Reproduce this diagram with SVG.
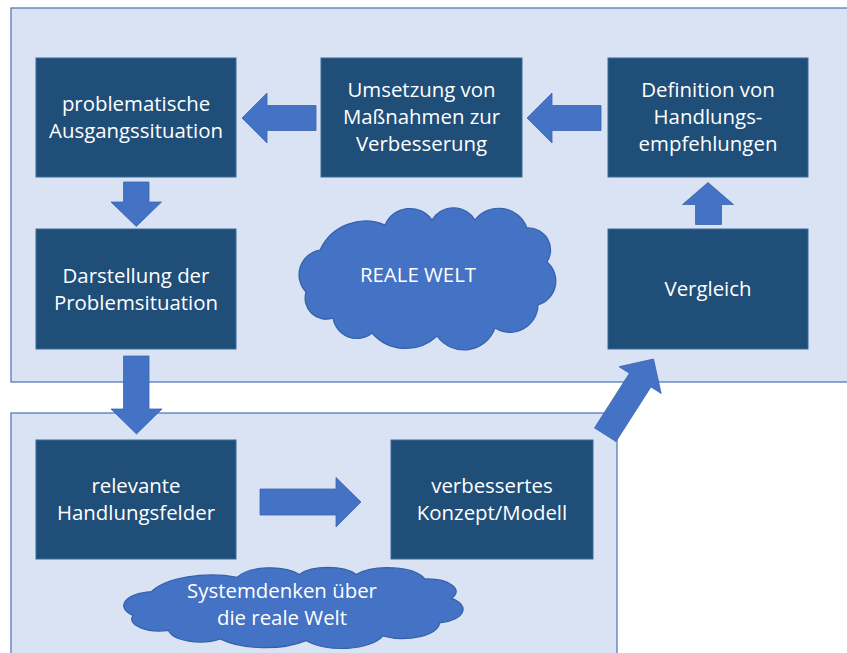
<svg xmlns="http://www.w3.org/2000/svg" width="847" height="653" viewBox="0 0 847 653">
  <style>
    .panel { fill: #DAE3F3; stroke: #4A70B8; stroke-width: 1.2; }
    .box { fill: #1F4E79; stroke: #3B6B99; stroke-width: 1; }
    .cloud { fill: #4472C4; stroke: #3560AA; stroke-width: 1.2; }
    .arrow { fill: #4472C4; stroke: #3A64AE; stroke-width: 0.8; stroke-linejoin: miter; }
    .label { font-family: "Open Sans", "Noto Sans", "DejaVu Sans", sans-serif; font-size: 20.4px; fill: #FFFFFF; text-anchor: middle; }
  </style>
  <defs>
    <!-- cloud outline, drawn at the size of the upper cloud -->
    <path id="cloudShape" vector-effect="non-scaling-stroke" d="M306,292 A25,25 0 0 1 320,250 A50,50 0 0 1 385,225 A27,27 0 0 1 432,220 A25,25 0 0 1 475,220 A30,30 0 0 1 527,228 A22,22 0 0 1 547,262 A25,25 0 0 1 538,305 A28,28 0 0 1 495,328 A33,33 0 0 1 437,336 A45,45 0 0 1 372,333 A24,24 0 0 1 333,318 A21,21 0 0 1 306,292 Z"/>
  </defs>

  <!-- background panels -->
  <g id="panel-real-world">
    <rect class="panel" x="11" y="8" width="860" height="374"/>
  </g>
  <g id="panel-system-thinking">
    <rect class="panel" x="11" y="413" width="606" height="260"/>
  </g>

  <!-- clouds -->
  <g id="cloud-reale-welt">
    <use href="#cloudShape" class="cloud"/>
    <text class="label" x="418" y="282">REALE WELT</text>
  </g>
  <g id="cloud-systemdenken">
    <use href="#cloudShape" class="cloud" transform="translate(125 567) scale(1.3216 0.5704) translate(-300 -207)"/>
    <text class="label" x="282" y="598">Systemdenken über</text>
    <text class="label" x="282" y="625">die reale Welt</text>
  </g>

  <!-- process boxes -->
  <g id="node-ausgangssituation">
    <rect class="box" x="36" y="58" width="200" height="119"/>
    <text class="label" x="136" y="111">problematische</text>
    <text class="label" x="136" y="138">Ausgangssituation</text>
  </g>
  <g id="node-umsetzung">
    <rect class="box" x="321" y="58" width="201" height="119"/>
    <text class="label" x="421.5" y="97">Umsetzung von</text>
    <text class="label" x="421.5" y="124">Maßnahmen zur</text>
    <text class="label" x="421.5" y="151">Verbesserung</text>
  </g>
  <g id="node-definition">
    <rect class="box" x="608" y="58" width="200" height="119"/>
    <text class="label" x="708" y="97">Definition von</text>
    <text class="label" x="708" y="124">Handlungs-</text>
    <text class="label" x="708" y="151">empfehlungen</text>
  </g>
  <g id="node-darstellung">
    <rect class="box" x="36" y="229" width="200" height="120"/>
    <text class="label" x="136" y="282.5">Darstellung der</text>
    <text class="label" x="136" y="309.5">Problemsituation</text>
  </g>
  <g id="node-vergleich">
    <rect class="box" x="608" y="229" width="200" height="120"/>
    <text class="label" x="708" y="296">Vergleich</text>
  </g>
  <g id="node-handlungsfelder">
    <rect class="box" x="36" y="440" width="200" height="119"/>
    <text class="label" x="136" y="493">relevante</text>
    <text class="label" x="136" y="520">Handlungsfelder</text>
  </g>
  <g id="node-konzept">
    <rect class="box" x="391" y="440" width="202" height="119"/>
    <text class="label" x="492" y="493">verbessertes</text>
    <text class="label" x="492" y="520">Konzept/Modell</text>
  </g>

  <!-- block arrows between the steps -->
  <g id="connectors">
    <polygon class="arrow" points="242,118 267,93 267,105.5 316,105.5 316,130.5 267,130.5 267,143"/>
    <polygon class="arrow" points="527,118 552,93 552,105.5 601,105.5 601,130.5 552,130.5 552,143"/>
    <polygon class="arrow" points="123.5,182 149,182 149,202 161.5,202 136.3,226.5 111,202 123.5,202"/>
    <polygon class="arrow" points="123.5,356 149,356 149,409 162,409 136.5,434 111,409 123.5,409"/>
    <polygon class="arrow" points="260,489 336,489 336,477.5 361,502 336,527 336,515 260,515"/>
    <polygon class="arrow" points="708,182.5 733.5,204.5 721.5,204.5 721.5,224.5 695.5,224.5 695.5,204.5 682.5,204.5"/>
    <polygon class="arrow" points="653.5,359 661.2,393.5 650.9,387 616,441.6 594.5,427.9 629.4,373.3 619,366.7"/>
  </g>
</svg>
